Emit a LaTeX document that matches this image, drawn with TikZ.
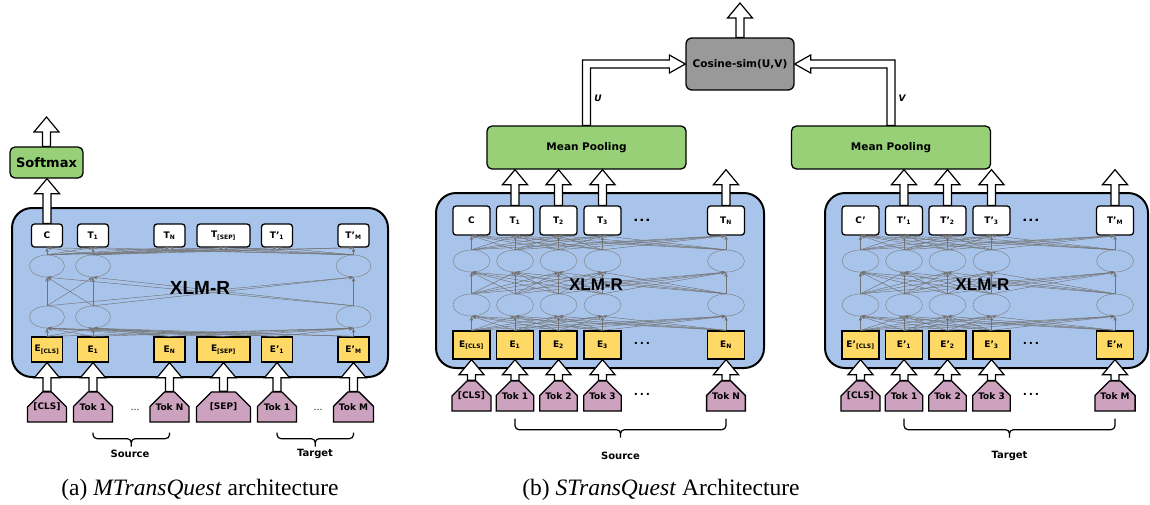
\documentclass[tikz,border=0pt]{standalone}
\usepackage{fontspec}
\setmainfont{Liberation Serif}
\setsansfont{DejaVu Sans}
\newfontfamily\xlmfont{Liberation Sans}
\usetikzlibrary{shapes.geometric,shapes.misc,arrows.meta,calc}

\definecolor{xlmblue}{HTML}{A9C4EB}
\definecolor{embyellow}{HTML}{FFD966}
\definecolor{poolgreen}{HTML}{97D077}
\definecolor{tokpink}{HTML}{CDA2BE}
\definecolor{simgray}{HTML}{999999}

\newcommand\labfont{\sffamily\bfseries\fontsize{9}{10}\selectfont}
\newcommand\sub[1]{\textsubscript{#1}}
% hollow block arrow, straight up from #1 to #2
\newcommand\upblock[2]{%
  \draw[blockarrow] let \p1=#1, \p2=#2 in
    ({\x1-4pt},\y1) -- ({\x1-4pt},{\y2-15pt}) -- ({\x1-12.5pt},{\y2-15pt})
    -- (\x1,\y2) -- ({\x1+12.5pt},{\y2-15pt}) -- ({\x1+4pt},{\y2-15pt})
    -- ({\x1+4pt},\y1) -- cycle;}
% square bracket under a run of tokens
\newcommand\tokbrace[3]{%
  \draw[tokbracket] let \p1=#1, \p2=#2 in
    (\x1,\y1) -- (\x1,{\y1-#3}) -- ({(\x1+\x2)/2},{\y1-#3}) -- ({(\x1+\x2)/2},{\y1-#3-8pt})
    (\x2,\y2) -- (\x2,{\y2-#3}) -- ({(\x1+\x2)/2},{\y2-#3}) -- ({(\x1+\x2)/2},{\y2-#3-8pt});}

\begin{document}
\begin{tikzpicture}[x=1pt, y=-1pt, font=\labfont,
    xlm/.style={draw, line width=2pt, fill=xlmblue, rounded corners=20pt},
    topbox/.style={draw, line width=1.3pt, fill=white, rounded corners=3pt, inner sep=1pt},
    embbox/.style={draw, line width=1.3pt, fill=embyellow, inner sep=1pt},
    tokbox/.style={chamfered rectangle, chamfered rectangle corners={north west,north east},
      chamfered rectangle xsep=11.5pt, chamfered rectangle ysep=10pt,
      draw, line width=1.3pt, fill=tokpink, inner sep=1pt},
    cell/.style={ellipse, draw=black!50, line width=0.45pt, inner sep=0pt},
    link/.style={draw=black!55, line width=0.45pt, -{Stealth[length=4.5pt,width=3.5pt]}},
    blockarrow/.style={draw, line width=1.2pt, fill=white, line join=miter},
    poolbox/.style={draw, line width=1.3pt, fill=poolgreen, rounded corners=5pt,
      font=\sffamily\bfseries\fontsize{10.5}{12}\selectfont},
    simbox/.style={draw, line width=1.3pt, fill=simgray, rounded corners=6pt,
      font=\sffamily\bfseries\fontsize{10.5}{12}\selectfont},
    tokbracket/.style={draw, line width=1.2pt, rounded corners=4pt},
    bigdots/.style={font=\sffamily\bfseries\fontsize{11}{11}\selectfont},
    brlab/.style={font=\sffamily\bfseries\fontsize{10}{12}\selectfont},
    caption/.style={font=\rmfamily\fontsize{23.5}{26}\selectfont}]
\useasboundingbox (0,0) rectangle (1150,504);

% (a) MTransQuest
\node[xlm, minimum width=376, minimum height=169] (aBox) at (200,292.5) {};
\coordinate (aRowHi) at (0,266);
\coordinate (aRowLo) at (0,317);
\foreach \i/\xc/\w/\kw/\tlab/\elab/\klab in {
    1/47/31/39/C/E\sub{[CLS]}/[CLS],
    2/93/31/39/T\sub{1}/E\sub{1}/Tok 1,
    3/169.5/31/39/T\sub{N}/E\sub{N}/Tok N,
    4/223.5/53/54/T\sub{[SEP]}/E\sub{[SEP]}/[SEP],
    5/277/31/39/T'\sub{1}/E'\sub{1}/Tok 1,
    6/353.5/31/39/T'\sub{M}/E'\sub{M}/Tok M} {
  \node[topbox, minimum width=\w, minimum height=23] (aT\i) at (\xc,235.5) {\tlab};
  \node[embbox, minimum width=\w, minimum height=25] (aE\i) at (\xc,349.5) {\elab};
  \node[tokbox, minimum width=\kw, minimum height=30] (aK\i) at (\xc,407) {\klab};
  \upblock{(aK\i.north)}{(aE\i.south)}
}
\foreach \i in {1,2,6} {
  \node[cell, minimum width=35, minimum height=22] (aHi\i) at (aT\i |- aRowHi) {};
  \node[cell, minimum width=35, minimum height=22] (aLo\i) at (aT\i |- aRowLo) {};
}
\foreach \i in {1,...,6} \foreach \j in {1,2,6} {
  \draw[link] (aE\i.north) -- (aLo\j.south);
  \draw[link] (aHi\j.north) -- (aT\i.south);
}
\foreach \i in {1,2,6} \foreach \j in {1,2,6}
  \draw[link] (aLo\i.north) -- (aHi\j.south);
\node[font=\xlmfont\bfseries\fontsize{19}{19}\selectfont] (aName) at (200,288) {XLM-R};

\node[poolbox, minimum width=73, minimum height=31,
  font=\sffamily\bfseries\fontsize{13}{14}\selectfont] (softmax) at (46.5,162.5) {Softmax};
\coordinate (aOut) at (46.5,117);
\upblock{(aT1.north)}{(aT1.north |- softmax.south)}
\upblock{(softmax.north)}{(aOut)}

\node[font=\sffamily\fontsize{9}{9}\selectfont] (aDots1) at (135,410) {\dots};
\node[font=\sffamily\fontsize{9}{9}\selectfont] (aDots2) at (318,410) {\dots};
\tokbrace{($(aK2.south)+(0,10)$)}{($(aK3.south)+(0,10)$)}{6pt}
\tokbrace{($(aK5.south)+(0,10)$)}{($(aK6.south)+(0,10)$)}{6pt}
\node[brlab] (aSrc) at (130,454) {Source};
\node[brlab] (aTgt) at (315,454) {Target};
\node[caption] (capA) at (200,490) {(a) \textit{MTransQuest} architecture};

% (b) STransQuest, source and target sides
\foreach \side/\dx/\pr/\last/\bw/\px/\lab in {s/0//N/328/586.5/Source, t/389/'/M/323/891/Target} {
  \node[xlm, minimum width=\bw, minimum height=175, anchor=north west] (\side Box) at (435+\dx,192) {};
  \node[poolbox, minimum width=199, minimum height=43] (\side Pool) at (\px,147.5) {Mean Pooling};
  \foreach \i/\xc/\tlab/\elab/\klab in {
      0/471.5/C\pr/E\pr\sub{[CLS]}/[CLS],
      1/515/T\pr\sub{1}/E\pr\sub{1}/Tok 1,
      2/558.5/T\pr\sub{2}/E\pr\sub{2}/Tok 2,
      3/602.5/T\pr\sub{3}/E\pr\sub{3}/Tok 3,
      4/726/T\pr\sub{\last}/E\pr\sub{\last}/Tok \last} {
    \node[topbox, minimum width=37, minimum height=29] (\side T\i) at (\xc+\dx,220.5) {\tlab};
    \node[cell, minimum width=37, minimum height=22] (\side Hi\i) at (\xc+\dx,261) {};
    \node[cell, minimum width=37, minimum height=22] (\side Lo\i) at (\xc+\dx,305) {};
    \node[embbox, minimum width=37, minimum height=28] (\side E\i) at (\xc+\dx,345) {\elab};
    \node[tokbox, minimum width=37, minimum height=30] (\side K\i) at (\xc+\dx,396) {\klab};
    \upblock{(\side K\i.north)}{(\side E\i.south)}
  }
  \foreach \i in {0,...,4} \foreach \j in {0,...,4} {
    \draw[link] (\side E\i.north) -- (\side Lo\j.south);
    \draw[link] (\side Lo\i.north) -- (\side Hi\j.south);
    \draw[link] (\side Hi\i.north) -- (\side T\j.south);
  }
  \node[font=\xlmfont\bfseries\fontsize{17}{17}\selectfont] (\side Name) at ($(\side Box.center)+(-4,4)$) {XLM-R};
  \foreach \i in {1,...,4}
    \upblock{(\side T\i.north)}{(\side T\i.north |- \side Pool.south)}
  \node[bigdots] (\side Dots1) at (642+\dx,220) {.\,.\,.};
  \node[bigdots] (\side Dots2) at (642+\dx,343) {.\,.\,.};
  \node[bigdots] (\side Dots3) at (642+\dx,394) {.\,.\,.};
  \tokbrace{($(\side K1.south)+(0,7)$)}{($(\side K4.south)+(0,7)$)}{11pt}
  \node[brlab] (\side Lab) at ($(\side K1.south)!0.5!(\side K4.south)+(0,44)$) {\lab};
}

\node[simbox, minimum width=108, minimum height=52] (cos) at (740,64) {Cosine-sim(U,V)};
\coordinate (cosOut) at (740,3);
\upblock{(cos.north)}{(cosOut)}
% U and V feed the similarity from the sides
\draw[blockarrow] let \p1=(sPool.north), \p2=(cos.west) in
  ({\x1-4pt},\y1) -- ({\x1-4pt},{\y2+4pt}) -- ({\x2-16pt},{\y2+4pt}) -- ({\x2-16pt},{\y2+9pt})
  -- (\x2,\y2) -- ({\x2-16pt},{\y2-9pt}) -- ({\x2-16pt},{\y2-4pt}) -- ({\x1+4pt},{\y2-4pt})
  -- ({\x1+4pt},\y1) -- cycle;
\draw[blockarrow] let \p1=(tPool.north), \p2=(cos.east) in
  ({\x1+4pt},\y1) -- ({\x1+4pt},{\y2+4pt}) -- ({\x2+16pt},{\y2+4pt}) -- ({\x2+16pt},{\y2+9pt})
  -- (\x2,\y2) -- ({\x2+16pt},{\y2-9pt}) -- ({\x2+16pt},{\y2-4pt}) -- ({\x1-4pt},{\y2-4pt})
  -- ({\x1-4pt},\y1) -- cycle;
\node[font=\sffamily\bfseries\itshape\fontsize{9}{10}\selectfont] (uLab) at (598,98) {U};
\node[font=\sffamily\bfseries\itshape\fontsize{9}{10}\selectfont] (vLab) at (902,98) {V};
\node[caption] (capB) at (661,490) {(b) \textit{STransQuest} Architecture};
\end{tikzpicture}
\end{document}
